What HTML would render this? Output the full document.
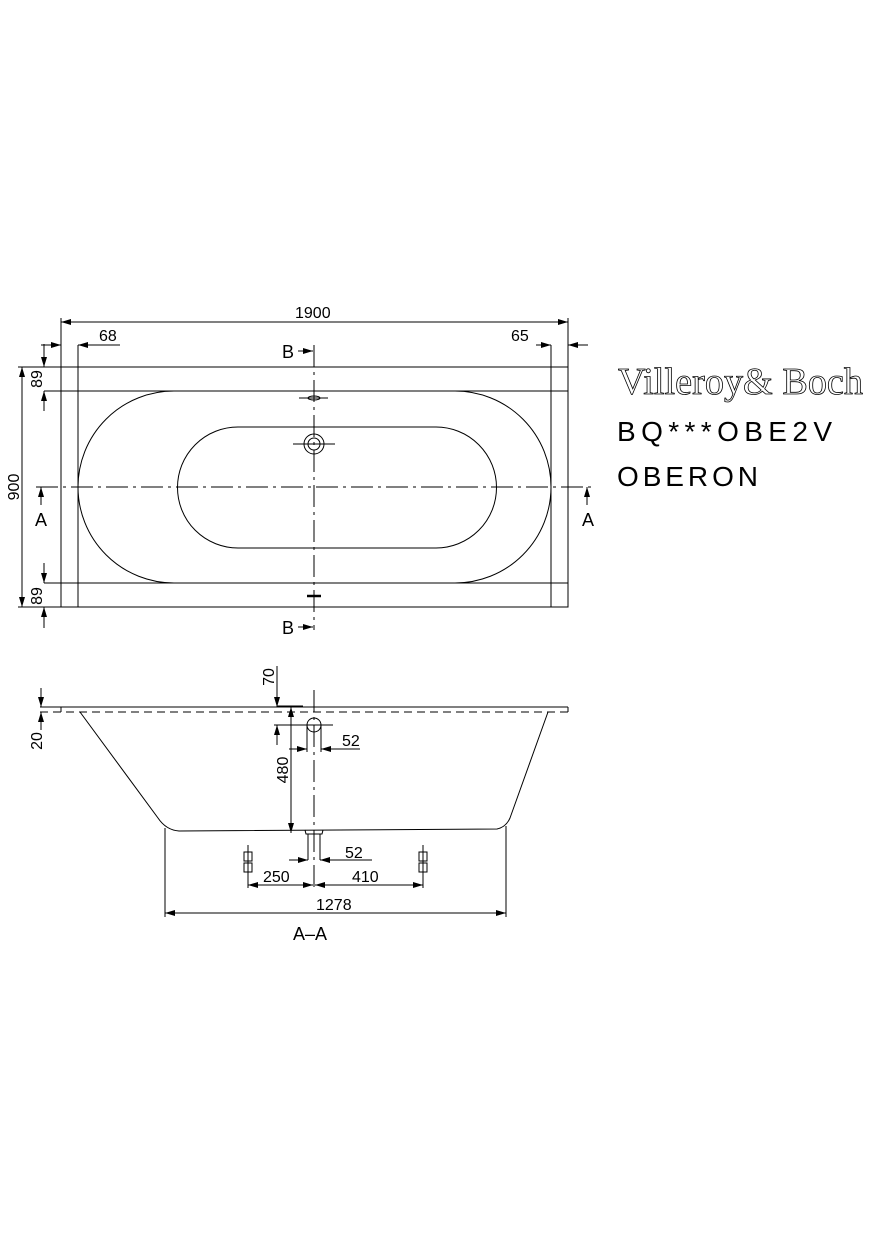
<!DOCTYPE html>
<html><head><meta charset="utf-8"><style>
html,body{margin:0;padding:0;background:#fff;}
svg{display:block}
text{font-family:"Liberation Sans",sans-serif;fill:#000;}
</style></head><body>
<svg width="875" height="1240" viewBox="0 0 875 1240" xmlns="http://www.w3.org/2000/svg">
<defs>
<marker id="a" viewBox="0 0 10 6" refX="10" refY="3" markerWidth="10" markerHeight="6" orient="auto-start-reverse" markerUnits="userSpaceOnUse"><path d="M0,0 L10,3 L0,6 Z" fill="#000"/></marker>
</defs>
<g stroke="#000" stroke-width="1" fill="none">
<rect x="61" y="367" width="507" height="240"/>
<line x1="44" y1="391" x2="568" y2="391"/>
<line x1="44" y1="583" x2="568" y2="583"/>
<line x1="78" y1="345" x2="78" y2="607"/>
<line x1="551" y1="345" x2="551" y2="607"/>
<line x1="61" y1="318" x2="61" y2="367"/>
<line x1="568" y1="318" x2="568" y2="367"/>
<path d="M174,391 H455 A96,96 0 0 1 455,583 H174 A96,96 0 0 1 174,391 Z"/>
<path d="M238,427 H436 A60.5,60.5 0 0 1 436,548 H238 A60.5,60.5 0 0 1 238,427 Z"/>
<line x1="36" y1="487" x2="592" y2="487" stroke-dasharray="22,5,3,5"/>
<line x1="314" y1="345" x2="314" y2="630" stroke-dasharray="22,5,3,5"/>
<line x1="61" y1="322" x2="568" y2="322" marker-start="url(#a)" marker-end="url(#a)"/>
<line x1="41" y1="345" x2="61" y2="345" marker-end="url(#a)"/>
<line x1="120" y1="345" x2="78" y2="345" marker-end="url(#a)"/>
<line x1="536" y1="345" x2="551" y2="345" marker-end="url(#a)"/>
<line x1="588" y1="345" x2="568" y2="345" marker-end="url(#a)"/>
<line x1="22" y1="367" x2="22" y2="607" marker-start="url(#a)" marker-end="url(#a)"/>
<line x1="18" y1="367" x2="61" y2="367"/>
<line x1="18" y1="607" x2="61" y2="607"/>
<line x1="44" y1="344" x2="44" y2="367" marker-end="url(#a)"/>
<line x1="44" y1="411" x2="44" y2="391" marker-end="url(#a)"/>
<line x1="44" y1="563" x2="44" y2="583" marker-end="url(#a)"/>
<line x1="44" y1="628" x2="44" y2="607" marker-end="url(#a)"/>
<line x1="41" y1="505" x2="41" y2="487" marker-end="url(#a)"/>
<line x1="587" y1="505" x2="587" y2="487" marker-end="url(#a)"/>
<line x1="298" y1="351" x2="313" y2="351" marker-end="url(#a)"/>
<line x1="298" y1="627" x2="313" y2="627" marker-end="url(#a)"/>
<line x1="299" y1="398" x2="328" y2="398"/>
<ellipse cx="314" cy="398" rx="6" ry="2"/>
<circle cx="314" cy="444" r="10"/>
<circle cx="314" cy="444" r="6"/>
<line x1="293" y1="444" x2="335" y2="444"/>
<line x1="307" y1="596" x2="321" y2="596" stroke-width="2.5"/>
<line x1="40" y1="707" x2="568" y2="707"/>
<line x1="40" y1="712" x2="568" y2="712" stroke-dasharray="8,5"/>
<line x1="61" y1="707" x2="61" y2="712"/>
<line x1="568" y1="707" x2="568" y2="712"/>
<path d="M80,712 L158,818 Q166,830 179,831 L497,829 Q506,827 510,818 L548,712"/>
<line x1="41" y1="688" x2="41" y2="707" marker-end="url(#a)"/>
<line x1="41" y1="730" x2="41" y2="712" marker-end="url(#a)"/>
<line x1="277" y1="666" x2="277" y2="707" marker-end="url(#a)"/>
<line x1="277" y1="745" x2="277" y2="725" marker-end="url(#a)"/>
<line x1="277" y1="706" x2="303" y2="706"/>
<line x1="274" y1="725" x2="333" y2="725"/>
<circle cx="314" cy="725" r="7"/>
<line x1="307" y1="725" x2="307" y2="752"/>
<line x1="321" y1="725" x2="321" y2="752"/>
<line x1="314" y1="690" x2="314" y2="890" stroke-dasharray="22,5,3,5"/>
<line x1="289" y1="749" x2="307" y2="749" marker-end="url(#a)"/>
<line x1="360" y1="749" x2="321" y2="749" marker-end="url(#a)"/>
<line x1="291" y1="707" x2="291" y2="833" marker-start="url(#a)" marker-end="url(#a)"/>
<path d="M305,830 L306,834 H322 L323,830"/>
<line x1="308" y1="834" x2="308" y2="860"/>
<line x1="320" y1="834" x2="320" y2="860"/>
<line x1="289" y1="860" x2="308" y2="860" marker-end="url(#a)"/>
<line x1="372" y1="860" x2="320" y2="860" marker-end="url(#a)"/>
<rect x="244" y="852" width="8" height="9"/><rect x="244" y="863" width="8" height="9"/>
<line x1="248" y1="845" x2="248" y2="888"/>
<rect x="419" y="852" width="8" height="9"/><rect x="419" y="863" width="8" height="9"/>
<line x1="423" y1="845" x2="423" y2="888"/>
<line x1="248" y1="885" x2="313" y2="885" marker-start="url(#a)" marker-end="url(#a)"/>
<line x1="315" y1="885" x2="423" y2="885" marker-start="url(#a)" marker-end="url(#a)"/>
<line x1="165" y1="828" x2="165" y2="917"/>
<line x1="506" y1="826" x2="506" y2="917"/>
<line x1="165" y1="913" x2="506" y2="913" marker-start="url(#a)" marker-end="url(#a)"/>
</g>
<g font-size="16">
<text x="295" y="318">1900</text>
<text x="99" y="341">68</text>
<text x="511" y="341">65</text>
<text transform="translate(19,487) rotate(-90)" text-anchor="middle">900</text>
<text transform="translate(42,379) rotate(-90)" text-anchor="middle">89</text>
<text transform="translate(42,596) rotate(-90)" text-anchor="middle">89</text>
<text x="41" y="526" text-anchor="middle" font-size="18">A</text>
<text x="588" y="526" text-anchor="middle" font-size="18">A</text>
<text x="282" y="358" font-size="18">B</text>
<text x="282" y="634" font-size="18">B</text>
<text transform="translate(42,741) rotate(-90)" text-anchor="middle">20</text>
<text transform="translate(274,677) rotate(-90)" text-anchor="middle">70</text>
<text transform="translate(288,770) rotate(-90)" text-anchor="middle">480</text>
<text x="342" y="746">52</text>
<text x="345" y="858">52</text>
<text x="263" y="882">250</text>
<text x="352" y="882">410</text>
<text x="316" y="910">1278</text>
<text x="310" y="940" text-anchor="middle" font-size="18">A–A</text>
</g>
<text x="618" y="394" font-size="38" style="fill:#fff;font-family:'Liberation Serif',serif" stroke="#000" stroke-width="0.8" textLength="245" lengthAdjust="spacingAndGlyphs">Villeroy&amp; Boch</text>
<text x="617" y="441" font-size="28" textLength="215" lengthAdjust="spacing">BQ***OBE2V</text>
<text x="617" y="486" font-size="28" textLength="141" lengthAdjust="spacing">OBERON</text>
</svg>
</body></html>
